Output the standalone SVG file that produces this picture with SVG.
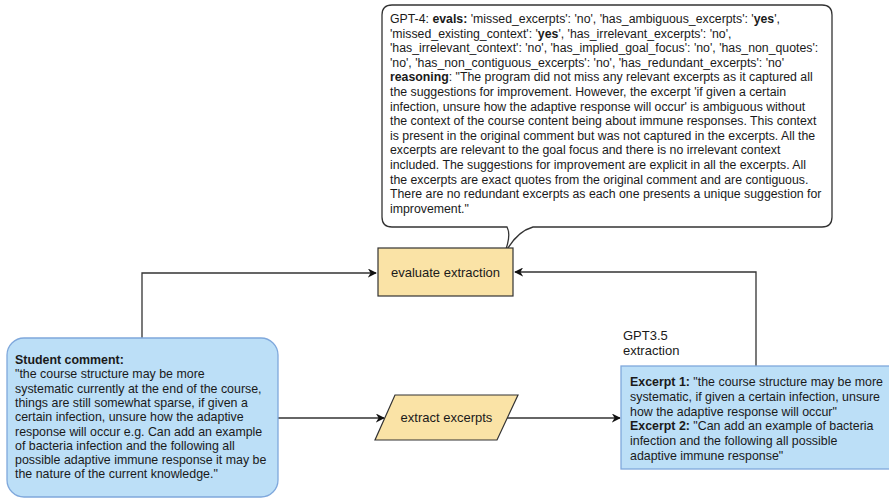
<svg xmlns="http://www.w3.org/2000/svg" width="889" height="498" viewBox="0 0 889 498">
<defs>
<style>
text{font-family:"Liberation Sans",Arial,Helvetica,sans-serif;fill:#1a1a1a}
.c12{font-size:12.3px}
.c13{font-size:13px}
.c125{font-size:12.4px}
.b{font-weight:bold}
.conn{fill:none;stroke:#333;stroke-width:1.3}
.yel{fill:#fae3a6;stroke:#333;stroke-width:1.2}
.blu{fill:#bcdff7;stroke:#7fa8dc;stroke-width:1.3}
</style>
<marker id="arr" viewBox="0 0 10 10" refX="9" refY="5" markerWidth="9" markerHeight="9" markerUnits="userSpaceOnUse" orient="auto">
<path d="M0,0 L10,5 L0,10 L3,5 Z" fill="#111"/>
</marker>
</defs>
<rect width="889" height="498" fill="#fff"/>
<g id="connectors">
<path class="conn" d="M142,338 V273 H376" marker-end="url(#arr)"/>
<path class="conn" d="M756,366 V272 H515" marker-end="url(#arr)"/>
<path class="conn" d="M278,418 H384" marker-end="url(#arr)"/>
<path class="conn" d="M507,418 H620" marker-end="url(#arr)"/>
</g>
<g id="callout">
<path d="M392,5 H822 Q832,5 832,15 V217 Q832,227 822,227 H533 Q515,232 503,257 Q512,236 507,227 H392 Q382,227 382,217 V15 Q382,5 392,5 Z" fill="#fff" stroke="#333" stroke-width="1.3"/>
<text class="c12" x="390">
<tspan x="390" y="23">GPT-4: <tspan class="b">evals:</tspan> 'missed_excerpts': 'no', 'has_ambiguous_excerpts': '<tspan class="b">yes</tspan>',</tspan>
<tspan x="390" y="37.6">'missed_existing_context': '<tspan class="b">yes</tspan>', 'has_irrelevant_excerpts': 'no',</tspan>
<tspan x="390" y="52.2">'has_irrelevant_context': 'no', 'has_implied_goal_focus': 'no', 'has_non_quotes':</tspan>
<tspan x="390" y="66.8">'no', 'has_non_contiguous_excerpts': 'no', 'has_redundant_excerpts': 'no'</tspan>
<tspan x="390" y="81.4"><tspan class="b">reasoning</tspan>: "The program did not miss any relevant excerpts as it captured all</tspan>
<tspan x="390" y="96">the suggestions for improvement. However, the excerpt 'if given a certain</tspan>
<tspan x="390" y="110.6">infection, unsure how the adaptive response will occur' is ambiguous without</tspan>
<tspan x="390" y="125.2">the context of the course content being about immune responses. This context</tspan>
<tspan x="390" y="139.8">is present in the original comment but was not captured in the excerpts. All the</tspan>
<tspan x="390" y="154.4">excerpts are relevant to the goal focus and there is no irrelevant context</tspan>
<tspan x="390" y="169">included. The suggestions for improvement are explicit in all the excerpts. All</tspan>
<tspan x="390" y="183.6">the excerpts are exact quotes from the original comment and are contiguous.</tspan>
<tspan x="390" y="198.2">There are no redundant excerpts as each one presents a unique suggestion for</tspan>
<tspan x="390" y="212.8">improvement."</tspan>
</text>
</g>
<g id="evaluate">
<rect class="yel" x="378" y="248" width="135" height="48"/>
<text class="c13" x="445.5" y="277" text-anchor="middle">evaluate extraction</text>
</g>
<g id="extract">
<path class="yel" d="M395,395 H518 L497,440 H375 Z"/>
<text class="c13" x="446.5" y="422" text-anchor="middle">extract excerpts</text>
</g>
<g id="student">
<rect class="blu" x="7" y="338" width="271" height="159" rx="17"/>
<text class="c125">
<tspan x="15" y="364" class="b">Student comment:</tspan>
<tspan x="15" y="378.3">"the course structure may be more</tspan>
<tspan x="15" y="392.6">systematic currently at the end of the course,</tspan>
<tspan x="15" y="406.9">things are still somewhat sparse, if given a</tspan>
<tspan x="15" y="421.2">certain infection, unsure how the adaptive</tspan>
<tspan x="15" y="435.5">response will occur e.g. Can add an example</tspan>
<tspan x="15" y="449.8">of bacteria infection and the following all</tspan>
<tspan x="15" y="464.1">possible adaptive immune response it may be</tspan>
<tspan x="15" y="478.4">the nature of the current knowledge."</tspan>
</text>
</g>
<g id="gpt35label">
<text class="c13"><tspan x="623" y="340">GPT3.5</tspan><tspan x="623" y="355">extraction</tspan></text>
</g>
<g id="excerpts">
<rect class="blu" x="621" y="366" width="280" height="103"/>
<text class="c125">
<tspan x="630" y="386"><tspan class="b">Excerpt 1:</tspan> "the course structure may be more</tspan>
<tspan x="630" y="400.8">systematic, if given a certain infection, unsure</tspan>
<tspan x="630" y="415.6">how the adaptive response will occur"</tspan>
<tspan x="630" y="430.4"><tspan class="b">Excerpt 2:</tspan> "Can add an example of bacteria</tspan>
<tspan x="630" y="445.2">infection and the following all possible</tspan>
<tspan x="630" y="460">adaptive immune response"</tspan>
</text>
</g>
</svg>
